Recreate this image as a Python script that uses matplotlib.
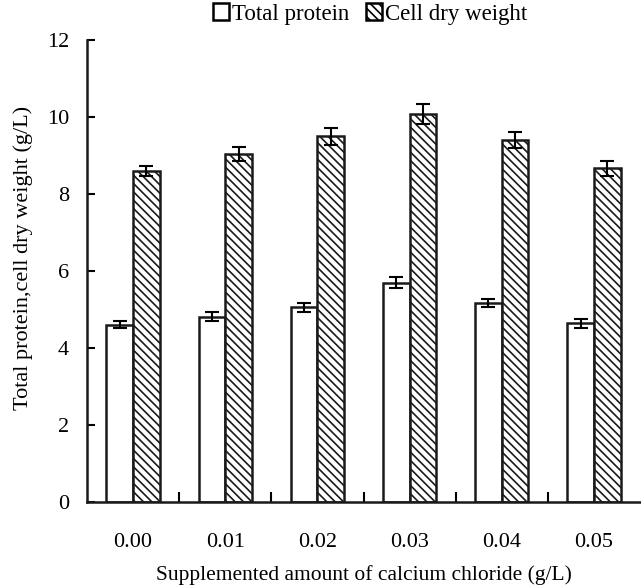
import matplotlib
matplotlib.use("Agg")
import matplotlib.pyplot as plt
import numpy as np
from matplotlib.patches import Patch

categories = ["0.00", "0.01", "0.02", "0.03", "0.04", "0.05"]
total_protein = [4.60, 4.81, 5.06, 5.70, 5.16, 4.64]
total_protein_err = [0.09, 0.12, 0.12, 0.15, 0.10, 0.11]
cell_dry_weight = [8.60, 9.03, 9.50, 10.07, 9.40, 8.67]
cell_dry_weight_err = [0.12, 0.18, 0.22, 0.26, 0.20, 0.20]

plt.rcParams['font.family'] = ['Liberation Serif', 'DejaVu Serif']
plt.rcParams['hatch.linewidth'] = 1.2

fs = 16
fig = plt.figure(figsize=(6.41, 5.86), dpi=100)
ax = fig.add_axes([87/641, 1-502/586, (640-87)/641, (502-40)/586])

x = np.arange(len(categories))
w = 0.29
ekw = dict(elinewidth=1.5, capthick=1.5)
ax.bar(x - w/2, total_protein, w, yerr=total_protein_err, color='white',
       edgecolor='#1a1a1a', linewidth=1.8, capsize=5, error_kw=ekw, label='Total protein')
ax.bar(x + w/2, cell_dry_weight, w, yerr=cell_dry_weight_err, color='white',
       edgecolor='#1a1a1a', linewidth=1.8, hatch='\\\\\\\\', capsize=5, error_kw=ekw,
       label='Cell dry weight')

ax.set_xlim(-0.5, len(categories) - 0.5)
ax.set_ylim(0, 12)
ax.set_yticks(np.arange(0, 13, 2))
ax.set_xticks(x)
ax.set_xticklabels(categories)
ax.set_xticks(np.arange(0.5, len(categories) - 0.5, 1), minor=True)
ax.tick_params(axis='x', which='major', length=0, pad=22, labelsize=fs)
ax.tick_params(axis='x', which='minor', direction='in', length=7, width=1.5)
ax.tick_params(axis='y', direction='in', length=6, width=1.5, pad=13, labelsize=fs)

for s in ['top', 'right']:
    ax.spines[s].set_visible(False)
for s in ['left', 'bottom']:
    ax.spines[s].set_linewidth(1.8)
    ax.spines[s].set_color('#1a1a1a')

ax.set_xlabel('Supplemented amount of calcium chloride (g/L)', fontsize=15.5, labelpad=10)
ax.set_ylabel('Total protein,cell dry weight (g/L)', fontsize=fs, labelpad=10)
ax.yaxis.label.set_y(0.528)

handles = [Patch(facecolor='white', edgecolor='black', linewidth=1.8),
           Patch(facecolor='white', edgecolor='black', linewidth=1.8, hatch='\\\\\\\\')]
fig.legend(handles, ['Total protein', 'Cell dry weight'], loc='center',
           bbox_to_anchor=(370/641, 1-14/586), ncol=2, frameon=False, fontsize=16.5,
           handlelength=0.7, handleheight=0.7, handletextpad=0.15, columnspacing=0.7,
           borderaxespad=0, borderpad=0)

fig.savefig('out.png', dpi=100)
